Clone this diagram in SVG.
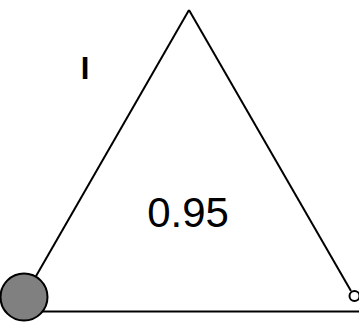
<svg xmlns="http://www.w3.org/2000/svg" width="359" height="335" viewBox="0 0 359 335">
<style>
.ln{stroke:#000;stroke-width:2;fill:none}
.t{font-family:"Liberation Sans",Arial,sans-serif;fill:#000}
</style>
<rect width="359" height="335" fill="#fff"/>
<g id="connectors">
<line class="ln" x1="189" y1="10" x2="24" y2="297"/>
<line class="ln" x1="189" y1="10" x2="351" y2="291"/>
<line class="ln" x1="24" y1="311.5" x2="365" y2="311.5"/>
</g>
<g id="node-left">
<circle cx="24" cy="297" r="23.5" fill="#808080" stroke="#000" stroke-width="2"/>
</g>
<g id="node-right">
<circle cx="354.5" cy="296" r="5" fill="#fff" stroke="#000" stroke-width="2"/>
</g>
<g id="label-I">
<text class="t" x="85" y="79" font-size="31" font-weight="bold" text-anchor="middle">I</text>
</g>
<g id="label-value">
<text class="t" x="188" y="227" font-size="42" text-anchor="middle">0.95</text>
</g>
</svg>
